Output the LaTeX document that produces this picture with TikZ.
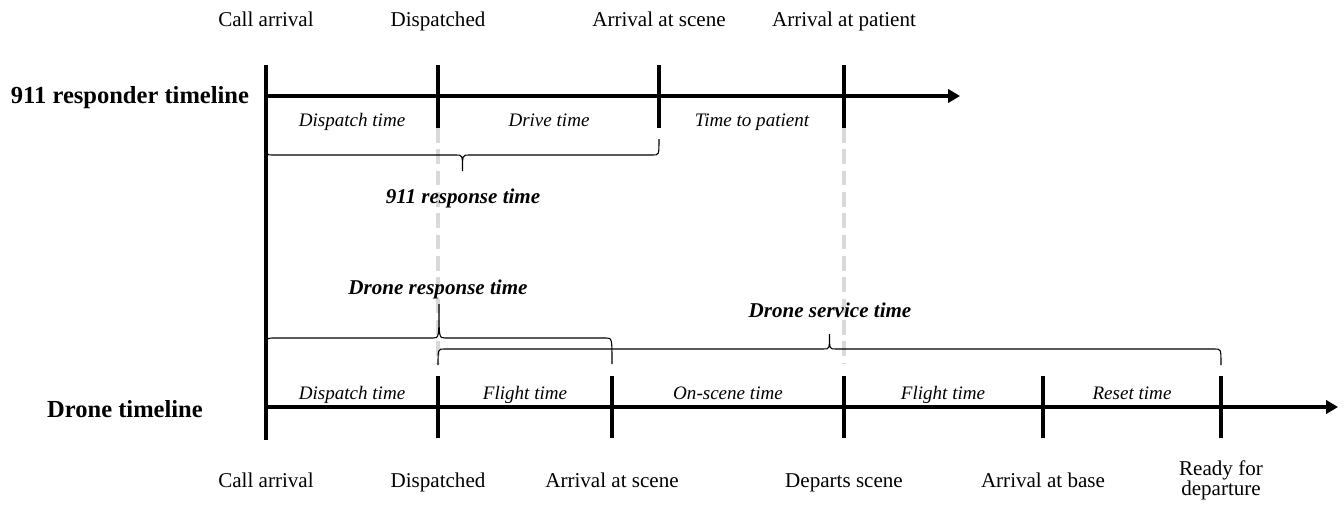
\documentclass[tikz,border=0pt]{standalone}
\usepackage{fontspec}
\setmainfont{Liberation Serif}
\usetikzlibrary{arrows.meta,positioning}
\definecolor{guidegray}{RGB}{217,217,217}

\newcommand{\timebrace}[5]{% left x, right x, end y, line y, tip y
  \draw[bracket] (#1,#3) .. controls (#1,#4) .. ({#1+6},#4)
    -- ({(#1+#2)/2-6},#4) .. controls ({(#1+#2)/2},#4) .. ({(#1+#2)/2},#5)
    .. controls ({(#1+#2)/2},#4) .. ({(#1+#2)/2+6},#4)
    -- ({#2-6},#4) .. controls (#2,#4) .. (#2,#3);}

\begin{document}
\begin{tikzpicture}[x=0.75pt,y=-0.75pt,
    axis/.style={line width=3pt,-{Triangle[length=9pt,width=10pt]}},
    tick/.style={line width=3pt},
    guide/.style={line width=3pt,draw=guidegray,dash pattern=on 11pt off 5pt},
    bracket/.style={line width=0.8pt},
    event/.style={font=\fontsize{15.8}{15}\selectfont,align=center,anchor=base,inner sep=0pt},
    span/.style={font=\fontsize{14.3}{17}\selectfont\itshape,anchor=base,inner sep=0pt},
    total/.style={font=\fontsize{15.8}{19}\selectfont\bfseries\itshape,anchor=base,inner sep=0pt},
    rowname/.style={font=\fontsize{18.4}{22}\selectfont\bfseries,anchor=base,inner sep=0pt}
    ]
	\useasboundingbox (0,0) rectangle (1344,507);

	\coordinate (Top) at (266,65);
	\coordinate (Bottom) at (266,440);
	\coordinate (R0) at (266,96);
	\coordinate (Rend) at (960,96);
	\coordinate (D0) at (266,407);
	\coordinate (Dend) at (1338,407);

	\foreach \n/\x in {1/438,2/659,3/844}{
		\coordinate (Rt\n) at (\x,65);
		\coordinate (Rb\n) at (\x,128);
	}
	\foreach \n/\x in {1/438,2/612,3/844,4/1043,5/1221}{
		\coordinate (Dt\n) at (\x,376);
		\coordinate (Db\n) at (\x,438);
	}

	\draw[guide,shorten >=9pt] (Rb1) -- (Dt1);
	\draw[guide,shorten >=9pt] (Rb3) -- (Dt3);

	\draw[tick] (Top) -- (Bottom);
	\foreach \n in {1,2,3}{\draw[tick] (Rt\n) -- (Rb\n);}
	\foreach \n in {1,...,5}{\draw[tick] (Dt\n) -- (Db\n);}
	\draw[axis] (R0) -- (Rend);
	\draw[axis] (D0) -- (Dend);

	\node[rowname](rowR) at (130,103){911 responder timeline};
	\node[rowname](rowD) at (125,417){Drone timeline};

	\node[event](callR) at (266,26){Call arrival};
	\node[event](dispR) at (438,26){Dispatched};
	\node[event](sceneR) at (659,26){Arrival at scene};
	\node[event](patR) at (844,26){Arrival at patient};

	\node[span](dispTR) at (352,126){Dispatch time};
	\node[span](driveT) at (549,126){Drive time};
	\node[span](patT) at (752,126){Time to patient};

	\timebrace{266}{659}{139}{155}{171}
	\node[total](resp911) at (463,203){911 response time};

	\timebrace{266}{612}{364}{338}{304}
	\node[total](respD) at (438,294){Drone response time};
	\timebrace{438}{1221}{365}{349}{334}
	\node[total](servD) at (830,317){Drone service time};

	\node[span](dispTD) at (352,399){Dispatch time};
	\node[span](flyT) at (525,399){Flight time};
	\node[span](sceneT) at (728,399){On-scene time};
	\node[span](backT) at (943,399){Flight time};
	\node[span](resetT) at (1132,399){Reset time};

	\node[event](callD) at (266,487){Call arrival};
	\node[event](dispD) at (438,487){Dispatched};
	\node[event](sceneD) at (612,487){Arrival at scene};
	\node[event](leaveD) at (844,487){Departs scene};
	\node[event](baseD) at (1043,487){Arrival at base};
	\node[event](readyD) at (1221,495){Ready for\\departure};
\end{tikzpicture}
\end{document}
